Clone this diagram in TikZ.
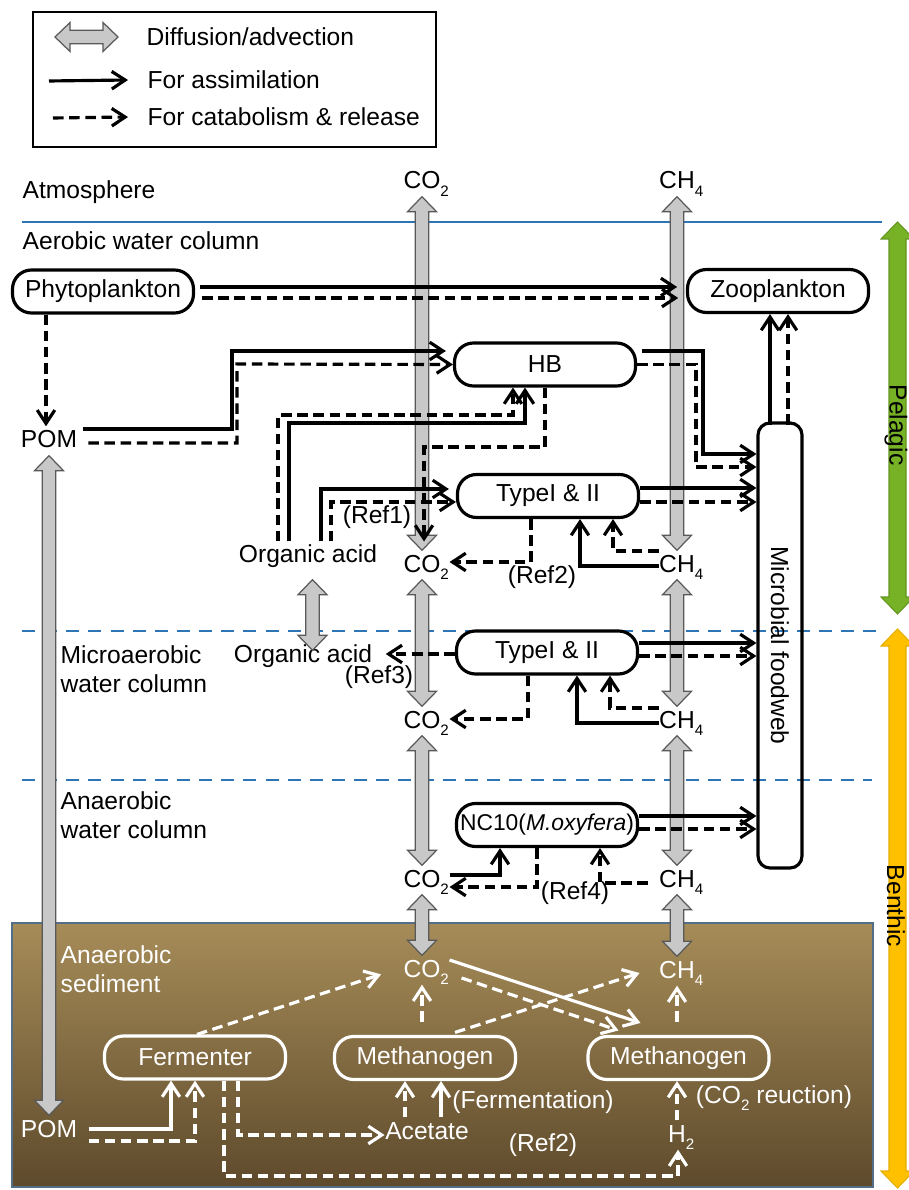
\documentclass[tikz,border=0pt]{standalone}
\usepackage{fontspec}
\setmainfont{Liberation Sans}
\usetikzlibrary{shapes,arrows,arrows.meta,positioning,calc}
\definecolor{layerline}{RGB}{46,117,182}
\definecolor{pelagic}{RGB}{118,177,38}
\definecolor{benthic}{RGB}{255,192,0}
\definecolor{diffgray}{RGB}{200,200,200}
\definecolor{sedtop}{RGB}{166,140,88}
\definecolor{sedbot}{RGB}{94,74,44}
\definecolor{sedline}{RGB}{84,110,138}

\newcommand{\subs}[1]{\raisebox{-2.2pt}{\fontsize{4.3}{5}\selectfont #1}}
\newcommand{\COtwo}{\phantom{\subs{2}}CO\subs{2}}
\newcommand{\CHfour}{CH\rlap{\subs{4}}}
\newcommand{\Htwo}{H\rlap{\subs{2}}}
% fat double arrow: head length, head half width, shaft half width
\newcommand{\fah}{0.15cm}
\newcommand{\faw}{0.145cm}
\newcommand{\fas}{0.068cm}
\newcommand{\fatarrow}[3][diffuse]{%
  \path #2 coordinate (fa1) #3 coordinate (fa2);
  \draw[#1] (fa1) -- ($(fa1)!\fah!(fa2)!\faw!-90:(fa2)$)
    -- ($(fa1)!\fah!(fa2)!\fas!-90:(fa2)$) -- ($(fa2)!\fah!(fa1)!\fas!90:(fa1)$)
    -- ($(fa2)!\fah!(fa1)!\faw!90:(fa1)$) -- (fa2)
    -- ($(fa2)!\fah!(fa1)!\faw!-90:(fa1)$) -- ($(fa2)!\fah!(fa1)!\fas!-90:(fa1)$)
    -- ($(fa1)!\fah!(fa2)!\fas!90:(fa2)$) -- ($(fa1)!\fah!(fa2)!\faw!90:(fa2)$)
    -- cycle;}

\begin{document}
\begin{tikzpicture}[x=1cm, y=-1cm, font=\fontsize{7}{8.4}\selectfont,
  >={Straight Barb[length=3.8pt,width=5pt]},
  organism/.style={draw, line width=0.9pt, rounded corners=0.19cm, minimum width=1.81cm,
    minimum height=0.43cm, inner sep=0pt, fill=white},
  worganism/.style={organism, draw=white, fill=none, text=white},
  gas/.style={inner xsep=0pt, inner ysep=0.03cm, text height=0.18cm, text depth=0.04cm},
  zone/.style={anchor=west, inner sep=0pt, align=left},
  assim/.style={->, line width=0.9pt},
  catab/.style={assim, dash pattern=on 3pt off 1.6pt},
  wassim/.style={assim, white},
  wcatab/.style={catab, white},
  diffuse/.style={fill=diffgray, draw=black!65, line width=0.35pt},
  pelfill/.style={fill=pelagic, draw=pelagic!85!black, line width=0.3pt},
  benfill/.style={fill=benthic, draw=benthic!90!black, line width=0.3pt},
  layer/.style={layerline, line width=0.7pt},
  sublayer/.style={layer, dash pattern=on 3.7pt off 2.6pt}]
\useasboundingbox (0,0) rectangle (9.08,11.90);

% sediment and layer boundaries
\draw[sedline, line width=0.5pt, top color=sedtop, bottom color=sedbot] (0.12,9.23) rectangle (8.73,11.87);
\draw[layer] (0.22,2.22) -- (8.82,2.22);
\draw[sublayer] (0.22,6.31) -- (8.78,6.31);
\draw[sublayer] (0.22,7.80) -- (8.72,7.80);

% legend
\draw[line width=0.5pt] (0.33,0.12) rectangle (4.36,1.47);
\node[zone] (leg1) at (1.46,0.37) {Diffusion/advection};
\node[zone] (leg2) at (1.47,0.80) {For assimilation};
\node[zone] (leg3) at (1.47,1.17) {For catabolism \& release};
\fatarrow{(0.55,0.37)}{(1.18,0.37)}
\draw[assim] (0.49,0.81) -- ([xshift=-0.19cm]leg2.west);
\draw[catab] (0.53,1.18) -- ([xshift=-0.19cm]leg3.west);

% zones
\node[zone] (atm) at (0.22,1.92) {Atmosphere};
\node[zone] (aer) at (0.22,2.41) {Aerobic water column};
\node[zone] (micro) at (0.60,6.69) {Microaerobic\\water column};
\node[zone] (anaer) at (0.60,8.15) {Anaerobic\\water column};
\node[zone, text=white] (sedlab) at (0.60,9.69) {Anaerobic\\sediment};

% organisms
\node[organism] (phyto) at (1.03,2.915) {Phytoplankton};
\node[organism] (zoo) at (7.78,2.91) {Zooplankton};
\node[organism] (hb) at (5.45,3.645) {HB};
\node[organism] (typeA) at (5.48,4.96) {TypeI \& II};
\node[organism] (typeB) at (5.47,6.525) {TypeI \& II};
\node[organism, font=\fontsize{6.5}{7.8}\selectfont] (nc10) at (5.47,8.25) {NC10(\textit{M.oxyfera})};
\node[draw, line width=0.9pt, rounded corners=0.12cm, minimum width=0.44cm, minimum height=4.45cm,
  inner sep=0pt] (mf) at (7.80,6.455) {\rotatebox{-90}{Microbial foodweb}};
\node[worganism] (ferm) at (1.95,10.575) {Fermenter};
\node[worganism] (meth1) at (4.25,10.58) {Methanogen};
\node[worganism] (meth2) at (6.785,10.58) {Methanogen};

% substances
\node[gas] (co2top) at (4.22,1.82) {\COtwo};
\node[gas] (ch4top) at (6.77,1.82) {\CHfour};
\node[gas] (co2a) at (4.22,5.65) {\COtwo};
\node[gas] (ch4a) at (6.77,5.65) {\CHfour};
\node[gas] (co2b) at (4.22,7.21) {\COtwo};
\node[gas] (ch4b) at (6.77,7.21) {\CHfour};
\node[gas] (co2c) at (4.22,8.80) {\COtwo};
\node[gas] (ch4c) at (6.77,8.80) {\CHfour};
\node[gas, text=white] (co2d) at (4.22,9.70) {\COtwo};
\node[gas, text=white] (ch4d) at (6.77,9.71) {\CHfour};
\node[gas] (pomtop) at (0.49,4.41) {POM};
\node[gas, text=white] (pombot) at (0.49,11.30) {POM};
\node[gas] (orgA) at (3.08,5.56) {Organic acid};
\node[gas] (orgB) at (3.03,6.55) {Organic acid};
\node[gas, text=white] (acetate) at (4.27,11.32) {Acetate};
\node[gas, text=white] (h2) at (6.77,11.35) {\Htwo};

% references
\node (ref1) at (3.77,5.17) {(Ref1)};
\node (ref2) at (5.42,5.77) {(Ref2)};
\node (ref3) at (3.79,6.77) {(Ref3)};
\node (ref4) at (5.75,8.93) {(Ref4)};
\node[text=white] (fermlab) at (5.33,11.02) {(Fermentation)};
\node[text=white] (ref2b) at (5.43,11.45) {(Ref2)};
\node[text=white] (redlab) at (7.74,10.98) {(CO\subs{2} reuction)};

% diffusion / advection
\fatarrow{(co2top.south)}{(co2a.north)}
\fatarrow{(co2a.south)}{(co2b.north)}
\fatarrow{(co2b.south)}{(co2c.north)}
\fatarrow{(co2c.south)}{(co2d.north)}
\fatarrow{(ch4top.south)}{(ch4a.north)}
\fatarrow{(ch4a.south)}{(ch4b.north)}
\fatarrow{(ch4b.south)}{(ch4c.north)}
\fatarrow{(ch4c.south)}{(ch4d.north)}
\fatarrow{(pomtop.south)}{(pombot.north)}
\fatarrow{([xshift=0.045cm,yshift=-0.09cm]orgA.south)}{([xshift=0.095cm,yshift=-0.1cm]orgB.north)}

% aerobic water column
\draw[assim, shorten <=1.5pt, shorten >=2.5pt] (phyto.east |- 0,2.87) -- (zoo.west |- 0,2.87);
\draw[catab, shorten <=2pt, shorten >=2.2pt] (phyto.east |- 0,2.98) -- (zoo.west |- 0,2.98);
\draw[catab] (0.46,0 |- phyto.south) -- (0.46,0 |- pomtop.north);
\draw[assim, shorten <=1.4pt, shorten >=2pt] (pomtop.east |- 0,4.29) -- (2.32,4.29) -- (2.32,3.51) -- (hb.west |- 0,3.51);
\draw[catab, shorten <=3pt] (pomtop.east |- 0,4.43) -- (2.37,4.43) -- (2.37,3.64) -- (hb.west);
\draw[assim] (2.89,0 |- orgA.north) -- (2.89,4.23) -- (5.25,4.23) -- (5.25,0 |- hb.south);
\draw[catab] (2.78,0 |- orgA.north) -- (2.78,4.15) -- (5.13,4.15) -- (5.13,0 |- hb.south);
\draw[catab, shorten >=2.5pt] (5.45,0 |- hb.south) -- (5.45,4.47) -- (4.24,4.47) -- (4.24,0 |- co2a.north);
\draw[assim, shorten >=2pt] (3.21,0 |- orgA.north) -- (3.21,4.89) -- (typeA.west |- 0,4.89);
\draw[catab] (3.31,0 |- orgA.north) -- (3.31,5.02) -- (typeA.west |- 0,5.02);
\draw[catab] (5.31,0 |- typeA.south) -- (5.31,5.62) -- (co2a.east |- 0,5.62);
\draw[assim] (ch4a.west |- 0,5.66) -- (5.80,5.66) -- (5.80,0 |- typeA.south);
\draw[catab] (ch4a.west |- 0,5.51) -- (6.13,5.51) -- (6.13,0 |- typeA.south);
\draw[assim, shorten <=1.5pt] (hb.east |- 0,3.51) -- (7.03,3.51) -- (7.03,4.54) -- (mf.west |- 0,4.54);
\draw[catab] (hb.east) -- (6.96,0 |- hb.east) -- (6.96,4.67) -- (mf.west |- 0,4.67);
\draw[assim] (typeA.east |- 0,4.88) -- (mf.west |- 0,4.88);
\draw[catab] (typeA.east |- 0,5.02) -- (mf.west |- 0,5.02);
\draw[assim, shorten <=-1pt] (7.70,0 |- mf.north) -- (7.70,0 |- zoo.south);
\draw[catab, shorten <=-1pt] (7.88,0 |- mf.north) -- (7.88,0 |- zoo.south);

% microaerobic water column
\draw[catab, shorten >=3.7pt] (typeB.west |- 0,6.54) -- (orgB.east |- 0,6.54);
\draw[catab] (5.28,0 |- typeB.south) -- (5.28,7.19) -- (co2b.east |- 0,7.19);
\draw[assim] (ch4b.west |- 0,7.23) -- (5.77,7.23) -- (5.77,0 |- typeB.south);
\draw[catab] (ch4b.west |- 0,7.08) -- (6.10,7.08) -- (6.10,0 |- typeB.south);
\draw[assim] (typeB.east |- 0,6.43) -- (mf.west |- 0,6.43);
\draw[catab] (typeB.east |- 0,6.56) -- (mf.west |- 0,6.56);

% anaerobic water column
\draw[assim] (co2c.east |- 0,8.75) -- (5.00,8.75) -- (5.00,0 |- nc10.south);
\draw[catab] (5.37,0 |- nc10.south) -- (5.37,8.87) -- (co2c.east |- 0,8.87);
\draw[catab, shorten <=3pt] (ch4c.west |- 0,8.83) -- (6.00,8.83) -- (6.00,0 |- nc10.south);
\draw[assim] (nc10.east |- 0,8.16) -- (mf.west |- 0,8.16);
\draw[catab] (nc10.east |- 0,8.29) -- (mf.west |- 0,8.29);

% anaerobic sediment
\draw[wcatab, shorten >=4pt] ([xshift=0.02cm]ferm.north) -- (co2d.west);
\draw[wcatab, shorten <=3.7pt] (co2d.south |- meth1.north) -- (co2d.south);
\draw[wassim] ([yshift=0.1cm]co2d.east) -- ([xshift=-0.38cm,yshift=0.12cm]meth2.north);
\draw[wcatab] ([xshift=0.12cm,yshift=-0.08cm]co2d.east) -- ([xshift=-0.6cm,yshift=0.045cm]meth2.north);
\draw[wcatab] ([xshift=0.3cm,yshift=0.025cm]meth1.north) -- ([xshift=-0.19cm,yshift=-0.02cm]ch4d.west);
\draw[wcatab, shorten <=3.7pt] (ch4d.south |- meth2.north) -- (ch4d.south);
\draw[wassim, shorten <=3.1pt] (pombot.east |- 0,11.29) -- (1.71,11.29) -- (1.71,0 |- ferm.south);
\draw[wcatab, shorten <=3.1pt] (pombot.east |- 0,11.41) -- (1.95,11.41) -- (1.95,0 |- ferm.south);
\draw[wcatab] (2.38,0 |- ferm.south) -- (2.38,11.35) -- (acetate.west |- 0,11.35);
\draw[wcatab] (2.24,0 |- ferm.south) -- (2.24,11.76) -- (6.78,11.76) -- (6.78,0 |- h2.south);
\draw[wcatab] (4.05,0 |- acetate.north) -- (4.05,0 |- meth1.south);
\draw[wassim] (4.41,0 |- acetate.north) -- (4.41,0 |- meth1.south);
\draw[wcatab] (h2.north) -- (h2.north |- meth2.south);

% pelagic / benthic
\renewcommand{\fah}{0.17cm}\renewcommand{\faw}{0.165cm}\renewcommand{\fas}{0.085cm}
\fatarrow[pelfill]{(8.975,2.22)}{(8.975,6.14)}
\fatarrow[benfill]{(8.975,6.29)}{(8.975,11.88)}
\node[rotate=-90] (pel) at (8.96,4.25) {Pelagic};
\node[rotate=-90] (ben) at (8.96,9.06) {Benthic};
\end{tikzpicture}
\end{document}
